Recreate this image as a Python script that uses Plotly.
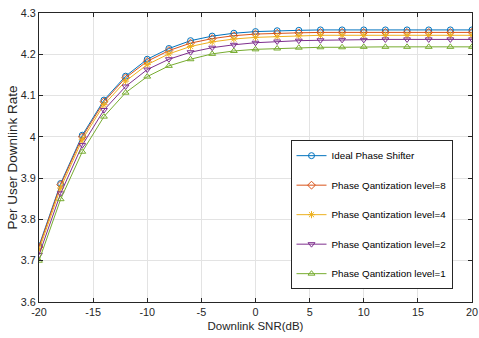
import plotly.graph_objects as go

snr = list(range(-20, 21, 2))
ideal = [3.736, 3.887, 4.004, 4.089, 4.147, 4.188, 4.214, 4.233, 4.244, 4.251, 4.255, 4.257, 4.258, 4.259, 4.259, 4.259, 4.259, 4.259, 4.259, 4.259, 4.259]
level8 = [3.733, 3.884, 4.000, 4.085, 4.143, 4.183, 4.209, 4.227, 4.238, 4.245, 4.249, 4.251, 4.252, 4.253, 4.253, 4.253, 4.253, 4.253, 4.253, 4.253, 4.253]
level4 = [3.726, 3.876, 3.993, 4.078, 4.135, 4.175, 4.201, 4.219, 4.230, 4.237, 4.241, 4.243, 4.245, 4.246, 4.246, 4.246, 4.246, 4.246, 4.246, 4.246, 4.246]
level2 = [3.714, 3.863, 3.980, 4.065, 4.122, 4.163, 4.188, 4.205, 4.216, 4.223, 4.228, 4.231, 4.233, 4.234, 4.235, 4.235, 4.236, 4.236, 4.236, 4.236, 4.236]
level1 = [3.700, 3.849, 3.964, 4.049, 4.107, 4.146, 4.172, 4.188, 4.201, 4.208, 4.212, 4.214, 4.216, 4.217, 4.217, 4.218, 4.218, 4.218, 4.218, 4.218, 4.218]

x_tickvals = [-20, -15, -10, -5, 0, 5, 10, 15, 20]
x_ticktext = ["-20", "-15", "-10", "-5", "0", "5", "10", "15", "20"]

names = ["Ideal Phase Shifter", "Phase Qantization level=8", "Phase Qantization level=4",
         "Phase Qantization level=2", "Phase Qantization level=1"]
series = [ideal, level8, level4, level2, level1]
colors = ["#0072BD", "#D95319", "#EDB120", "#7E2F8E", "#77AC30"]
symbols = ["circle-open", "diamond-open", "asterisk-open", "triangle-down-open", "triangle-up-open"]

fig = go.Figure()
for i, (n, s, c, m) in enumerate(zip(names, series, colors, symbols)):
    fig.add_trace(go.Scatter(x=snr, y=s, name=n, mode="lines+markers",
                             legendgroup=str(i),
                             line=dict(color=c, width=1),
                             marker=dict(symbol=m, size=6, color=c, line=dict(color=c, width=1))))

axis_common = dict(showline=True, linecolor="#262626", linewidth=1, mirror="ticks",
                   ticks="inside", ticklen=4, tickcolor="#262626", automargin=False,
                   showgrid=True, gridcolor="#E3E3E3", gridwidth=1, zeroline=False,
                   ticklabeloverflow="allow",
                   tickfont=dict(family="Liberation Sans, Arial", size=10.8, color="#262626"))

fig.update_layout(
    width=479, height=338,
    margin=dict(l=39, r=7, t=13, b=36),
    paper_bgcolor="white", plot_bgcolor="white",
    font=dict(family="Liberation Sans, Arial", color="#262626"),
    showlegend=True,
    legend=dict(x=0.955, y=0.56, xanchor="right", yanchor="top",
                bgcolor="white", bordercolor="#262626", borderwidth=1,
                font=dict(size=9.8, color="#000000"), tracegroupgap=10.5,
                itemwidth=30),
    xaxis=dict(range=[-20, 20], tickvals=x_tickvals, ticktext=x_ticktext,
               title=dict(text="Downlink SNR(dB)", font=dict(size=11.5, color="#262626"), standoff=4),
               **axis_common),
    yaxis=dict(range=[3.6, 4.3], dtick=0.1,
               title=dict(text="Per User Downlink Rate", font=dict(size=13.5, color="#262626"), standoff=0),
               **axis_common),
)

fig.write_html("out.html", config={"displayModeBar": False},
               post_script="document.body.style.margin='0';")
